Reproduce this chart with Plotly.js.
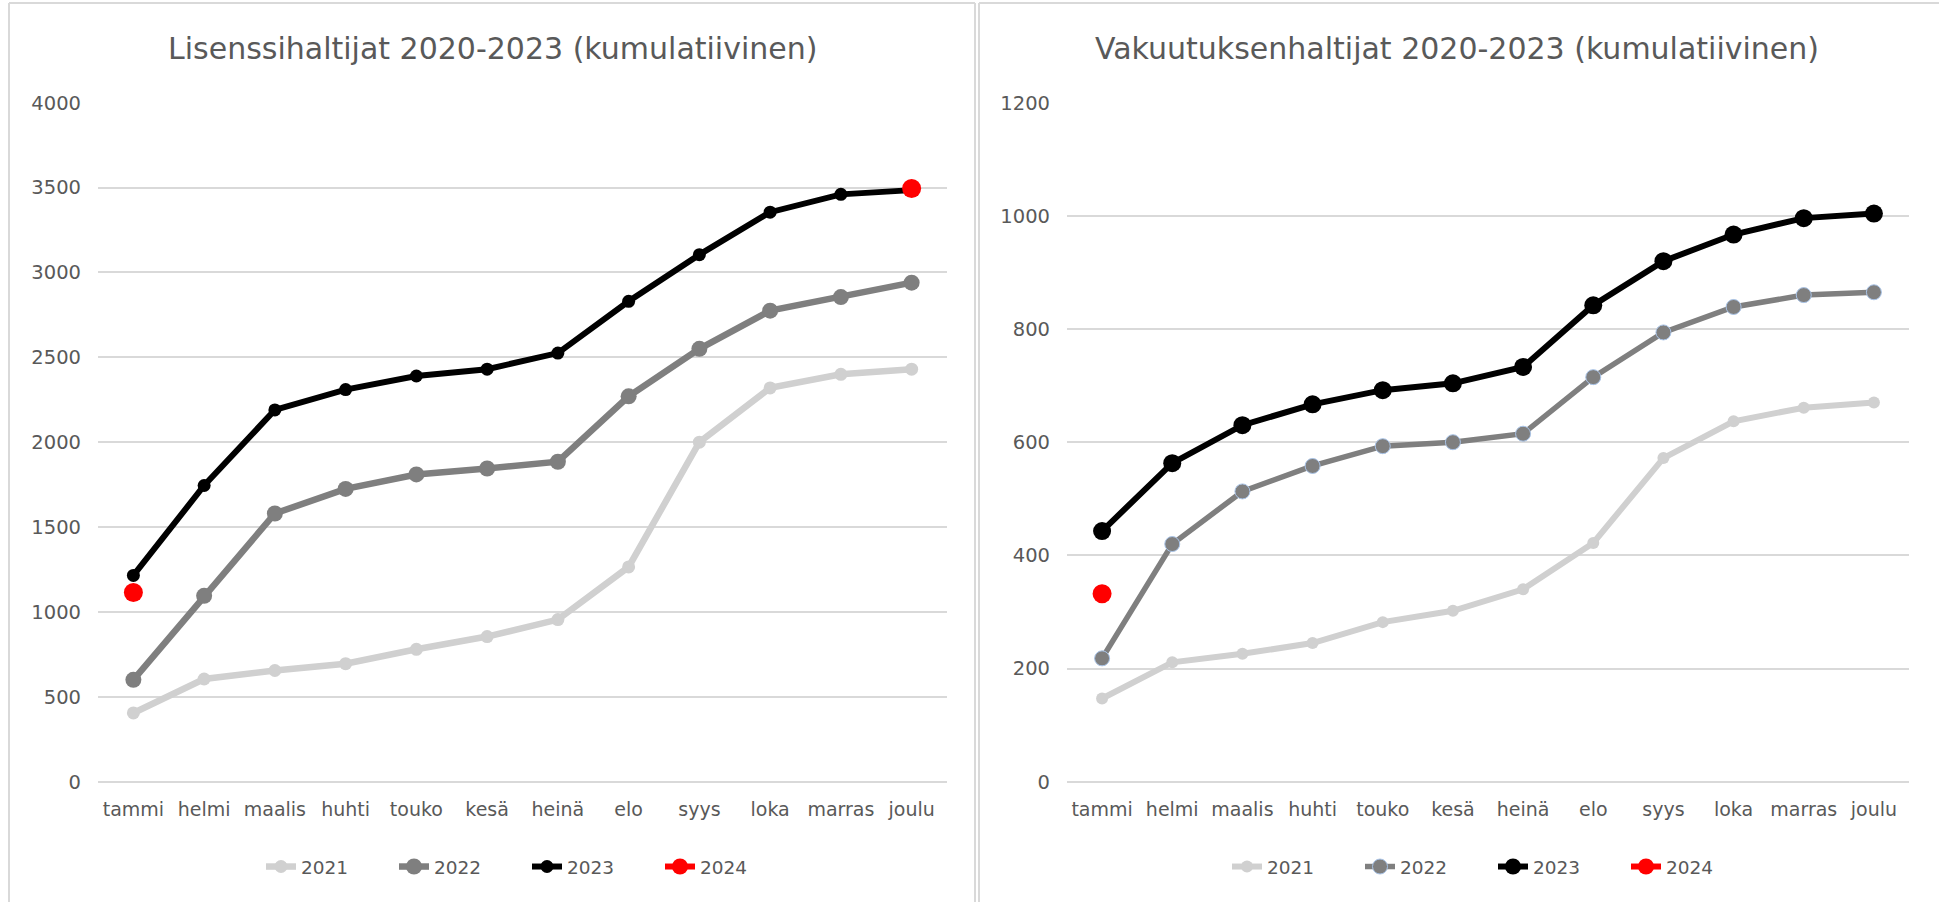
<!DOCTYPE html>
<html>
<head>
<meta charset="utf-8">
<script src="https://cdn.plot.ly/plotly-3.0.1.min.js"></script>
<style>html,body{margin:0;padding:0;background:#fff;}#chart{width:1939px;height:902px;}</style>
</head>
<body>
<div id="chart"></div>
<script>
const months = ["tammi","helmi","maalis","huhti","touko","kesä","heinä","elo","syys","loka","marras","joulu"];
const seriesNames = ["2021","2022","2023","2024"];

const titleLicence = "Lisenssihaltijat 2020-2023 (kumulatiivinen)";
const titleInsurance = "Vakuutuksenhaltijat 2020-2023 (kumulatiivinen)";

// Lisenssihaltijat
const lic2021 = [405, 605, 655, 695, 780, 855, 955, 1265, 2000, 2320, 2400, 2430];
const lic2022 = [600, 1095, 1580, 1725, 1810, 1845, 1885, 2270, 2550, 2775, 2855, 2940];
const lic2023 = [1215, 1745, 2190, 2310, 2390, 2430, 2525, 2830, 3105, 3355, 3460, 3485];
const lic2024 = [1115, null, null, null, null, null, null, null, null, null, null, 3495];

// Vakuutuksenhaltijat
const ins2021 = [147, 211, 226, 245, 282, 302, 340, 422, 572, 637, 661, 670];
const ins2022 = [218, 420, 513, 558, 593, 600, 615, 715, 794, 839, 860, 865];
const ins2023 = [443, 563, 630, 667, 692, 704, 733, 842, 920, 967, 996, 1004];
const ins2024 = [332, null, null, null, null, null, null, null, null, null, null, null];

const FONT = "DejaVu Sans";
const TXT = "#595959";
const GRID = "#d9d9d9";
const W = 1939, H = 902;
const px = x => x / W;
const py = y => (H - y) / H;

const styles = {
  left: [
    {color:"#d0d0d0", lw:6.5, ms:13, mline:null},
    {color:"#7f7f7f", lw:6.5, ms:16, mline:null},
    {color:"#000000", lw:6, ms:13, mline:null},
    {color:"#ff0000", lw:6, ms:19, mline:null}
  ],
  right: [
    {color:"#d0d0d0", lw:6, ms:12, mline:null},
    {color:"#7f7f7f", lw:5.5, ms:15, mline:"#a9c4e8"},
    {color:"#000000", lw:6, ms:18, mline:null},
    {color:"#ff0000", lw:6, ms:19, mline:null}
  ]
};

function mk(vals, i, side) {
  const s = styles[side][i];
  return {
    x: months, y: vals, name: seriesNames[i], type: "scatter", mode: "lines+markers",
    connectgaps: false,
    line: {color: s.color, width: s.lw},
    marker: {color: s.color, size: s.ms, line: s.mline ? {color: s.mline, width: 1} : {width: 0}},
    xaxis: side === "left" ? "x" : "x2",
    yaxis: side === "left" ? "y" : "y2",
    legend: side === "left" ? "legend" : "legend2"
  };
}

const data = [
  mk(lic2021, 0, "left"), mk(lic2022, 1, "left"), mk(lic2023, 2, "left"), mk(lic2024, 3, "left"),
  mk(ins2021, 0, "right"), mk(ins2022, 1, "right"), mk(ins2023, 2, "right"), mk(ins2024, 3, "right")
];

const yDomain = [py(781.7), py(102.7)];

function xAx(d) {
  return {
    domain: d, type: "category", range: [-0.5, 11.5], showgrid: false, zeroline: false,
    showline: false, ticks: "", ticklabelstandoff: 14,
    tickfont: {family: FONT, size: 19, color: TXT}, fixedrange: true
  };
}
function yAx(r, dt, anchor) {
  return {
    domain: yDomain, range: r, dtick: dt, tick0: 0, showgrid: true, gridcolor: GRID, gridwidth: 2,
    zeroline: true, zerolinecolor: GRID, zerolinewidth: 2, showline: false, ticks: "",
    ticklabelstandoff: 16, tickfont: {family: FONT, size: 19.5, color: TXT}, anchor: anchor, fixedrange: true
  };
}

const legendBase = {
  orientation: "h", xanchor: "center", yanchor: "middle", y: py(867),
  font: {family: FONT, size: 18.5, color: TXT}, entrywidth: 88, entrywidthmode: "pixels",
  bgcolor: "rgba(0,0,0,0)", traceorder: "normal"
};

const borderLine = {type: "line", xref: "paper", yref: "paper", line: {color: GRID, width: 2}};

const layout = {
  width: W, height: H, margin: {l: 0, r: 0, t: 0, b: 0},
  paper_bgcolor: "#ffffff", plot_bgcolor: "#ffffff",
  font: {family: FONT, color: TXT},
  xaxis: xAx([px(98), px(947)]),
  yaxis: yAx([0, 4000], 500, "x"),
  xaxis2: xAx([px(1067), px(1909)]),
  yaxis2: yAx([0, 1200], 200, "x2"),
  showlegend: true,
  legend: Object.assign({}, legendBase, {x: px(527)}),
  legend2: Object.assign({}, legendBase, {x: px(1493)}),
  annotations: [
    {text: titleLicence, xref: "paper", yref: "paper", x: px(492), y: py(48), xanchor: "center", yanchor: "middle",
     showarrow: false, font: {family: FONT, size: 30, color: TXT}},
    {text: titleInsurance, xref: "paper", yref: "paper", x: px(1457), y: py(48), xanchor: "center", yanchor: "middle",
     showarrow: false, font: {family: FONT, size: 30, color: TXT}}
  ],
  shapes: [
    Object.assign({}, borderLine, {x0: px(9), x1: px(9), y0: 0, y1: py(3)}),
    Object.assign({}, borderLine, {x0: px(9), x1: px(975), y0: py(3), y1: py(3)}),
    Object.assign({}, borderLine, {x0: px(975), x1: px(975), y0: 0, y1: py(3)}),
    Object.assign({}, borderLine, {x0: px(979), x1: px(979), y0: 0, y1: py(3)}),
    Object.assign({}, borderLine, {x0: px(979), x1: 1, y0: py(3), y1: py(3)})
  ]
};

Plotly.newPlot("chart", data, layout, {displayModeBar: false, staticPlot: true});
</script>
</body>
</html>
